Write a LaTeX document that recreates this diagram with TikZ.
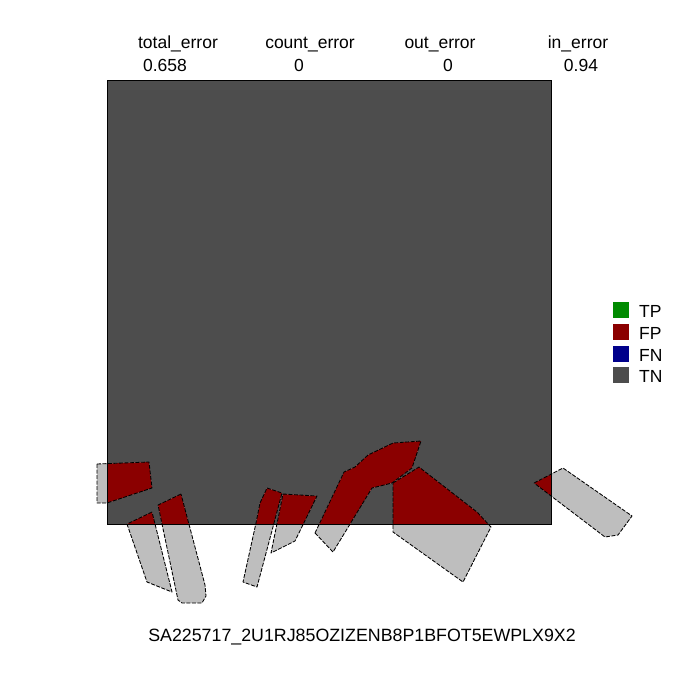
\documentclass[tikz,border=0pt]{standalone}
\usepackage{fontspec}
\setmainfont{Liberation Sans}
\definecolor{tncol}{HTML}{4D4D4D}
\definecolor{fpcol}{HTML}{8B0000}
\definecolor{tpcol}{HTML}{008B00}
\definecolor{fncol}{HTML}{00008B}
\definecolor{outcol}{HTML}{BEBEBE}
\begin{document}
\begin{tikzpicture}[x=1pt,y=-1pt,
  lbl/.style={font=\fontsize{17.5}{20}\selectfont, inner sep=0pt, anchor=base},
  poly/.style={draw=black, line width=0.85pt, dash pattern=on 4pt off 1.5pt, line join=round},
  legbox/.style={minimum size=16pt, inner sep=0pt, anchor=north west}]
\useasboundingbox (0,0) rectangle (700,700);
\fill[white] (0,0) rectangle (700,700);
% main square
\fill[tncol] (107,80) rectangle (551,524);
% polygons
\def\pA{(97,464) -- (149,462) -- (152,488) -- (107,503) -- (97,503) -- cycle}
\def\pB{(152,512) -- (127,524) -- (147,582) -- (172,592) -- cycle}
\def\pC{(181,494) -- (158,505) -- (178,600) -- (182,603) -- (202,603) -- (206,596) -- (205,585) -- cycle}
\def\pD{(267,488) -- (282,493) -- (257,587) -- (243,582) -- (256,523) -- (260,503) -- cycle}
\def\pE{(283,494) -- (317,496) -- (295,541) -- (271,553) -- cycle}
\def\pF{(315,533) -- (333,552) -- (372,488) -- (392,483) -- (412,468) -- (421,441) -- (393,443) -- (368,455) -- (355,467) -- (344,472) -- cycle}
\def\pG{(393,483) -- (419,467) -- (477,512) -- (491,527) -- (463,582) -- (393,532) -- cycle}
\def\pH{(534,483) -- (563,468) -- (632,516) -- (618,535) -- (605,537) -- cycle}
\foreach \pp in {\pA,\pB,\pC,\pD,\pE,\pF,\pG,\pH}{
  \fill[outcol] \pp;
  \begin{scope}
    \clip (107,80) rectangle (551,524);
    \fill[fpcol] \pp;
  \end{scope}
  \draw[poly] \pp;
}
\draw[black, line width=0.8pt] (107,80) rectangle (551,524);
% header
\node[lbl] (h1) at (178,49) {total\_error};
\node[lbl] (h2) at (310,49) {count\_error};
\node[lbl] (h3) at (440,49) {out\_error};
\node[lbl] (h4) at (578,49) {in\_error};
\node[lbl] (v1) at (165,72) {0.658};
\node[lbl] (v2) at (299,72) {0};
\node[lbl] (v3) at (448,72) {0};
\node[lbl] (v4) at (581,72) {0.94};
% legend
\node[legbox, fill=tpcol] (ltp) at (613,302) {};
\node[legbox, fill=fpcol] (lfp) at (613,324) {};
\node[legbox, fill=fncol] (lfn) at (613,346) {};
\node[legbox, fill=tncol] (ltn) at (613,367) {};
\node[lbl, anchor=base west] (ttp) at (639,317) {TP};
\node[lbl, anchor=base west] (tfp) at (639,339) {FP};
\node[lbl, anchor=base west] (tfn) at (639,361) {FN};
\node[lbl, anchor=base west] (ttn) at (639,382) {TN};
% footer
\node[lbl, font=\fontsize{17.8}{20}\selectfont] (foot) at (362,641) {SA225717\_2U1RJ85OZIZENB8P1BFOT5EWPLX9X2};
\end{tikzpicture}
\end{document}
